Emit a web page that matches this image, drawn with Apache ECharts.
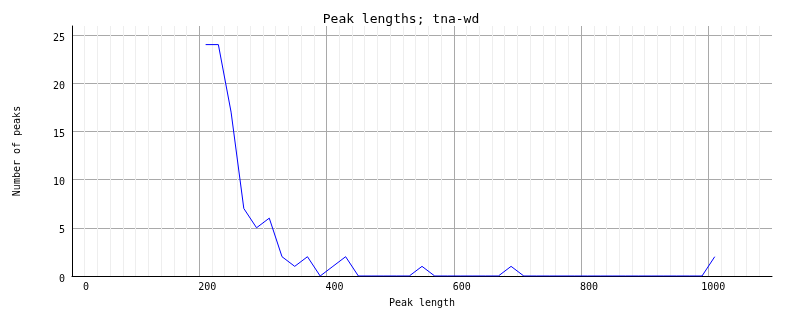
<!DOCTYPE html>
<html>
<head>
<meta charset="utf-8">
<script src="https://cdn.jsdelivr.net/npm/echarts@6/dist/echarts.min.js"></script>
<style>
html,body{margin:0;padding:0;background:#fff;}
#chart{width:802px;height:328px;}
</style>
</head>
<body>
<div id="chart"></div>
<script>
// Data
const peakLengths = [210, 230, 250, 270, 290, 310, 330, 350, 370, 390,
                     410, 430, 450, 470, 490, 510, 530, 550, 570, 590,
                     610, 630, 650, 670, 690, 710, 730, 750, 770, 790,
                     810, 830, 850, 870, 890, 910, 930, 950, 970, 990, 1010];
const peakCounts  = [24, 24, 17, 7, 5, 6, 2, 1, 2, 0,
                     1, 2, 0, 0, 0, 0, 0, 1, 0, 0,
                     0, 0, 0, 0, 1, 0, 0, 0, 0, 0,
                     0, 0, 0, 0, 0, 0, 0, 0, 0, 0, 2];
const xTicks = [0, 200, 400, 600, 800, 1000];
const yTicks = [0, 5, 10, 15, 20, 25];

const FONT = '"DejaVu Sans Mono", monospace';
const seriesData = peakLengths.map((x, i) => [x, peakCounts[i]]);

const chart = echarts.init(document.getElementById('chart'), null, {renderer: 'canvas'});
chart.setOption({
  animation: false,
  backgroundColor: '#ffffff',
  title: {
    text: 'Peak lengths; tna-wd',
    left: 'center',
    top: 8,
    textStyle: {fontFamily: FONT, fontSize: 13, fontWeight: 'normal', color: '#000'}
  },
  grid: [
    {left: 72, right: 30, top: 26, bottom: 52, containLabel: false},
    {left: 89, right: 13, top: 26, bottom: 52, containLabel: false}
  ],
  xAxis: [
    {
      type: 'value', gridIndex: 0, min: 0, max: 1100, interval: 200,
      name: 'Peak length', nameLocation: 'middle', nameGap: 22,
      nameTextStyle: {fontFamily: FONT, fontSize: 10, color: '#000'},
      axisLine: {show: true, onZero: false, lineStyle: {color: '#000', width: 1}},
      axisTick: {show: false},
      axisLabel: {show: false},
      splitLine: {show: true, showMaxLine: false, lineStyle: {color: '#a9a9a9', width: 1}},
      minorTick: {show: false, splitNumber: 10},
      minorSplitLine: {show: true, lineStyle: {color: '#eeeeee', width: 1}}
    },
    {
      type: 'value', gridIndex: 1, min: 0, max: 1100, interval: 200,
      axisLine: {show: false}, axisTick: {show: false},
      splitLine: {show: false},
      axisLabel: {
        show: true, align: 'right', margin: 6, showMaxLabel: false,
        fontFamily: FONT, fontSize: 10, color: '#000',
        formatter: v => (xTicks.indexOf(v) >= 0 ? String(v) : '')
      }
    }
  ],
  yAxis: [
    {
      type: 'value', gridIndex: 0, min: 0, max: 25.93, interval: 5,
      name: 'Number of peaks', nameLocation: 'middle', nameGap: 50, nameRotate: 90,
      nameTextStyle: {fontFamily: FONT, fontSize: 10, color: '#000'},
      axisLine: {show: true, onZero: false, lineStyle: {color: '#000', width: 1}},
      axisTick: {show: false},
      axisLabel: {
        show: true, margin: 7, showMaxLabel: false,
        verticalAlign: 'top', lineHeight: 6,
        fontFamily: FONT, fontSize: 10, color: '#000',
        formatter: v => (yTicks.indexOf(v) >= 0 ? String(v) : '')
      },
      splitLine: {show: true, showMaxLine: false, showMinLine: false, lineStyle: {color: '#a9a9a9', width: 1}}
    },
    {
      type: 'value', gridIndex: 1, min: 0, max: 25.93, show: false
    }
  ],
  series: [{
    type: 'line',
    xAxisIndex: 0, yAxisIndex: 0,
    data: seriesData,
    symbol: 'none',
    lineStyle: {color: '#0000ff', width: 1},
    z: 5
  }]
});
</script>
</body>
</html>
